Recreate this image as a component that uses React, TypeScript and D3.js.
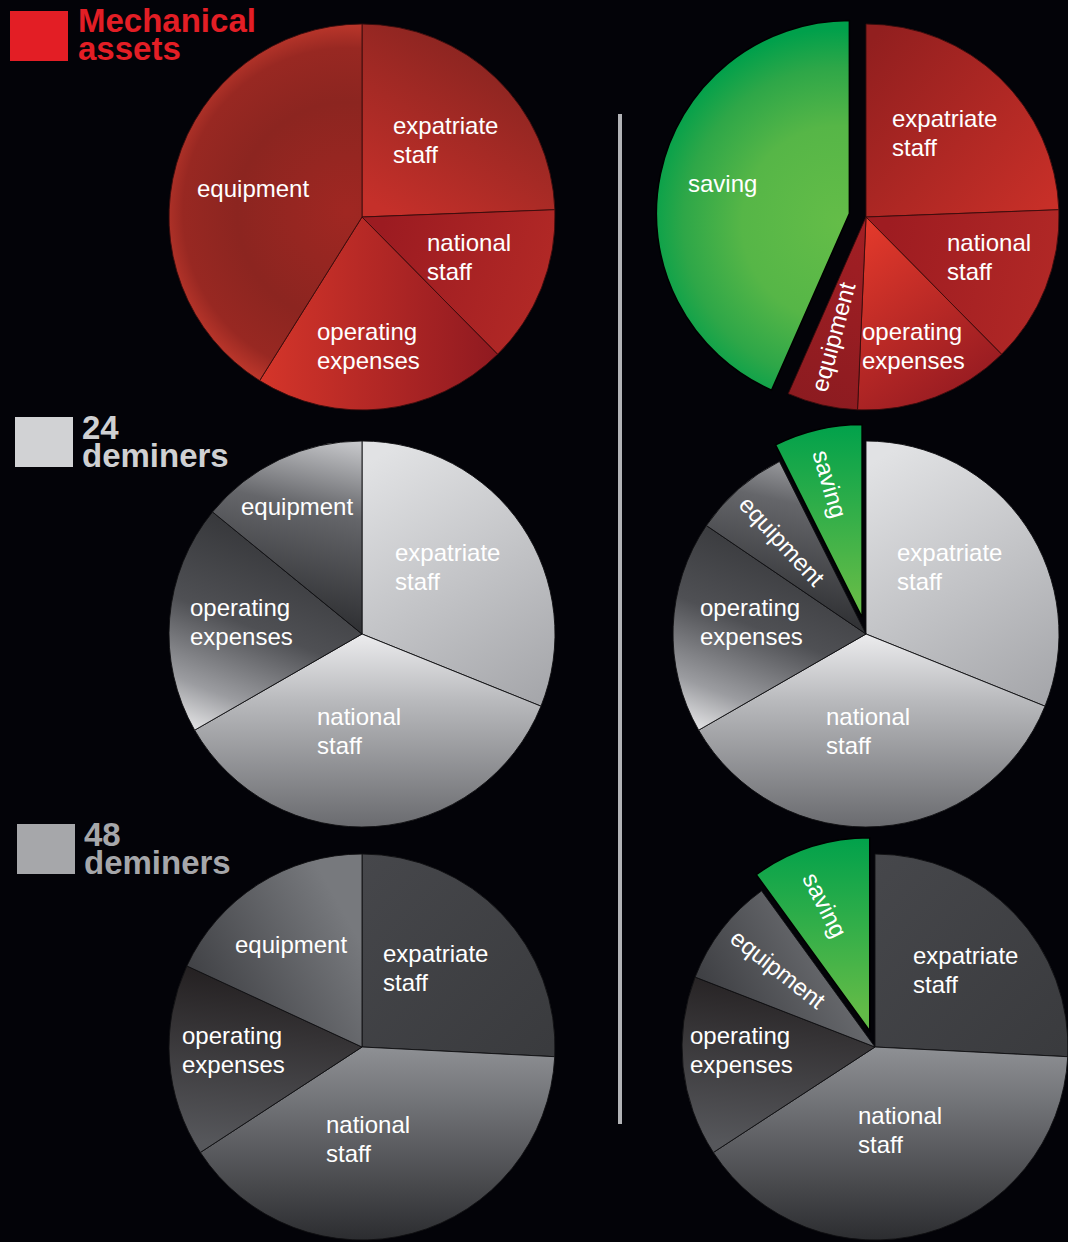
import React from "react";
import * as d3 from "d3";

// ---------- DATA (shares of total cost, %) ----------
const categories = ["expatriate staff", "national staff", "operating expenses", "equipment", "saving"];
const mechanicalNow = [24.4, 13.2, 21.3, 41.1, 0];
const mechanicalAlt = [24.4, 13.2, 13.1, 5.9, 43.4];
const deminers24Now = [31.1, 35.6, 19.2, 14.1, 0];
const deminers24Alt = [31.1, 35.6, 17.8, 8.1, 7.4];
const deminers48Now = [25.8, 40.0, 16.1, 18.1, 0];
const deminers48Alt = [25.8, 40.0, 15.1, 9.1, 10.0];
const groupTitles = [["Mechanical", "assets"], ["24", "deminers"], ["48", "deminers"]];

// ---------- LAYOUT / STYLE ----------
const W = 1068;
const H = 1242;
const R = 193;
const EXPLODE = 17;
const BG = "#030308";
const FONT = "'Liberation Sans', Arial, Helvetica, sans-serif";

type Stop = [number, string];
type Grad =
  | { kind: "linear"; x1: number; y1: number; x2: number; y2: number; stops: Stop[] }
  | { kind: "radial"; cx: number; cy: number; r: number; stops: Stop[] };

const lin = (x1: number, y1: number, x2: number, y2: number, stops: Stop[]): Grad => ({ kind: "linear", x1, y1, x2, y2, stops });
const rad = (cx: number, cy: number, r: number, stops: Stop[]): Grad => ({ kind: "radial", cx, cy, r, stops });

const greenRadial = rad(-10, 10, 195, [[0, "#64bd48"], [0.5, "#56b647"], [0.8, "#2ea748"], [1, "#00a04b"]]);
const greenLinear = lin(0, -195, 0, -20, [[0, "#00a14b"], [1, "#62bb47"]]);

const themes: Record<string, { stroke: string; fills: Grad[] }> = {
  redNow: {
    stroke: "#3a0c0c",
    fills: [
      lin(110, -185, 10, -15, [[0, "#872420"], [1, "#c5302a"]]),
      lin(20, 10, 190, 70, [[0, "#9c1b21"], [1, "#b22926"]]),
      lin(-100, 0, 140, 0, [[0, "#d4352a"], [1, "#8e1920"]]),
      rad(-15, -5, 200, [[0, "#a02722"], [0.55, "#8c2520"], [0.82, "#982822"], [0.93, "#b8352a"], [1, "#d0402c"]]),
      greenRadial,
    ],
  },
  redAlt: {
    stroke: "#3a0c0c",
    fills: [
      lin(-10, -160, 190, 20, [[0, "#921f1f"], [1, "#cd3129"]]),
      lin(20, 20, 190, 60, [[0, "#9e1c21"], [1, "#b12826"]]),
      lin(0, 10, 120, 175, [[0, "#e2392b"], [1, "#931a21"]]),
      lin(-80, 190, 0, 0, [[0, "#8b1b20"], [1, "#a31f24"]]),
      greenRadial,
    ],
  },
  grey: {
    stroke: "#101012",
    fills: [
      lin(20, -180, 180, 80, [[0, "#e1e2e4"], [1, "#a3a4a8"]]),
      lin(0, 0, 0, 193, [[0, "#ececee"], [0.35, "#b8b9bc"], [1, "#6a6b6f"]]),
      lin(-60, -120, -150, 110, [[0, "#2f3033"], [0.5, "#4f5054"], [0.8, "#9b9ca0"], [1, "#eeeeef"]]),
      lin(-40, -10, 0, -190, [[0, "#2f3033"], [0.6, "#65666a"], [1, "#c6c7ca"]]),
      greenLinear,
    ],
  },
  dark: {
    stroke: "#101012",
    fills: [
      lin(0, -190, 190, 0, [[0, "#46474b"], [1, "#3a3b3e"]]),
      lin(0, 0, 0, 193, [[0, "#8e9094"], [0.5, "#5d5e62"], [1, "#2c2d30"]]),
      lin(-100, -80, -120, 100, [[0, "#221e1f"], [1, "#56575b"]]),
      lin(-170, -30, -10, -120, [[0, "#3a3b3f"], [1, "#77797d"]]),
      greenLinear,
    ],
  },
};

type LabelPos = { x: number; y: number; rot?: number };

const pies: { values: number[]; cx: number; cy: number; theme: string; labels: Record<string, LabelPos> }[] = [
  {
    values: mechanicalNow, cx: 362, cy: 217, theme: "redNow",
    labels: {
      "expatriate staff": { x: 31, y: -83 },
      "national staff": { x: 65, y: 34 },
      "operating expenses": { x: -45, y: 123 },
      equipment: { x: -165, y: -20 },
    },
  },
  {
    values: mechanicalAlt, cx: 866, cy: 217, theme: "redAlt",
    labels: {
      "expatriate staff": { x: 26, y: -90 },
      "national staff": { x: 81, y: 34 },
      "operating expenses": { x: -4, y: 123 },
      equipment: { x: -33, y: 120, rot: -75 },
      saving: { x: -178, y: -25 },
    },
  },
  {
    values: deminers24Now, cx: 362, cy: 634, theme: "grey",
    labels: {
      "expatriate staff": { x: 33, y: -73 },
      "national staff": { x: -45, y: 91 },
      "operating expenses": { x: -172, y: -18 },
      equipment: { x: -121, y: -119 },
    },
  },
  {
    values: deminers24Alt, cx: 866, cy: 634, theme: "grey",
    labels: {
      "expatriate staff": { x: 31, y: -73 },
      "national staff": { x: -40, y: 91 },
      "operating expenses": { x: -166, y: -18 },
      equipment: { x: -84, y: -93, rot: 47 },
      saving: { x: -36, y: -150, rot: 74 },
    },
  },
  {
    values: deminers48Now, cx: 362, cy: 1047, theme: "dark",
    labels: {
      "expatriate staff": { x: 21, y: -85 },
      "national staff": { x: -36, y: 86 },
      "operating expenses": { x: -180, y: -3 },
      equipment: { x: -127, y: -94 },
    },
  },
  {
    values: deminers48Alt, cx: 875, cy: 1047, theme: "dark",
    labels: {
      "expatriate staff": { x: 38, y: -83 },
      "national staff": { x: -17, y: 77 },
      "operating expenses": { x: -185, y: -3 },
      equipment: { x: -97, y: -78, rot: 38 },
      saving: { x: -50, y: -142, rot: 63 },
    },
  },
];

const legends = [
  { x: 10, y: 11, color: "#e31e25", textColor: "#e31e25", tx: 78, base: 32 },
  { x: 15, y: 417, color: "#d1d2d4", textColor: "#cfd0d2", tx: 82, base: 439 },
  { x: 17, y: 824, color: "#a6a7aa", textColor: "#a6a7aa", tx: 84, base: 846 },
];

function GradDef({ id, g }: { id: string; g: Grad }) {
  const stops = g.stops.map(([o, c], i) => <stop key={i} offset={o} stopColor={c} />);
  if (g.kind === "linear") {
    return (
      <linearGradient id={id} gradientUnits="userSpaceOnUse" x1={g.x1} y1={g.y1} x2={g.x2} y2={g.y2}>
        {stops}
      </linearGradient>
    );
  }
  return (
    <radialGradient id={id} gradientUnits="userSpaceOnUse" cx={g.cx} cy={g.cy} r={g.r}>
      {stops}
    </radialGradient>
  );
}

export default function App() {
  const pieGen = d3.pie<number>().sort(null).value((d) => d);
  const arcGen = d3.arc<d3.PieArcDatum<number>>().innerRadius(0).outerRadius(R);

  return (
    <div style={{ width: W, height: H, background: BG }}>
      <style>{"html,body{margin:0;padding:0;background:#030308;}"}</style>
      <svg width={W} height={H} style={{ display: "block" }} fontFamily={FONT}>
        <rect width={W} height={H} fill={BG} />
        <defs>
          {pies.map((p, pi) =>
            themes[p.theme].fills.map((g, ci) => <GradDef key={`${pi}-${ci}`} id={`g-${pi}-${ci}`} g={g} />)
          )}
        </defs>

        <line x1={620} x2={620} y1={114} y2={1124} stroke="#b2b3b6" strokeWidth={4} />

        {legends.map((l, i) => (
          <g key={i}>
            <rect x={l.x} y={l.y} width={58} height={50} fill={l.color} />
            <text x={l.tx} y={l.base} fill={l.textColor} fontSize={33} fontWeight="bold" letterSpacing={0}>
              <tspan x={l.tx} y={l.base}>{groupTitles[i][0]}</tspan>
              <tspan x={l.tx} y={l.base + 28}>{groupTitles[i][1]}</tspan>
            </text>
          </g>
        ))}

        {pies.map((p, pi) => {
          const arcs = pieGen(p.values);
          const theme = themes[p.theme];
          return (
            <g key={pi} transform={`translate(${p.cx},${p.cy})`}>
              {arcs.map((a, ci) => {
                if (a.value <= 0) return null;
                const cat = categories[ci];
                if (cat === "saving") {
                  const mid = (a.startAngle + a.endAngle) / 2;
                  const ox = EXPLODE * Math.sin(mid);
                  const oy = -EXPLODE * Math.cos(mid);
                  return (
                    <g key={ci} transform={`translate(${ox},${oy})`}>
                      <path d={arcGen(a) || ""} fill={`url(#g-${pi}-${ci})`} stroke="#000" strokeWidth={1.5} />
                    </g>
                  );
                }
                return (
                  <path key={ci} d={arcGen(a) || ""} fill={`url(#g-${pi}-${ci})`} stroke={theme.stroke} strokeWidth={0.9} />
                );
              })}
              {arcs.map((a, ci) => {
                if (a.value <= 0) return null;
                const cat = categories[ci];
                const lp = p.labels[cat];
                if (!lp) return null;
                const lines = cat.split(" ");
                if (lp.rot !== undefined) {
                  return (
                    <text
                      key={`t${ci}`}
                      transform={`translate(${lp.x},${lp.y}) rotate(${lp.rot})`}
                      textAnchor="middle"
                      dominantBaseline="central"
                      fill="#fff"
                      fontSize={24}
                    >
                      {cat}
                    </text>
                  );
                }
                return (
                  <text key={`t${ci}`} fill="#fff" fontSize={24}>
                    {lines.map((ln, li) => (
                      <tspan key={li} x={lp.x} y={lp.y + li * 28.5}>
                        {ln}
                      </tspan>
                    ))}
                  </text>
                );
              })}
            </g>
          );
        })}
      </svg>
    </div>
  );
}
